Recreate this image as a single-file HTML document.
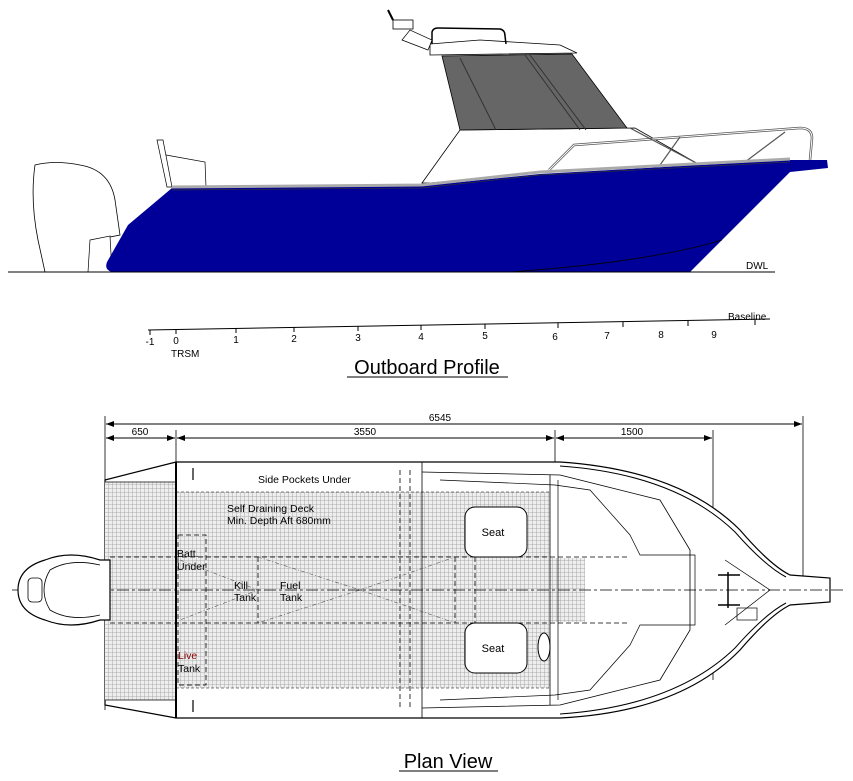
<!DOCTYPE html>
<html><head><meta charset="utf-8"><style>
html,body{margin:0;padding:0;background:#fff;}
svg{display:block;font-family:"Liberation Sans",Arial,sans-serif;}
</style></head><body>
<svg width="853" height="781" viewBox="0 0 853 781" xmlns="http://www.w3.org/2000/svg">
<defs>
<pattern id="g" width="4" height="4" patternUnits="userSpaceOnUse">
<rect width="4" height="4" fill="#eee"/>
<path d="M0 0H4M0 0V4" stroke="#999" stroke-width="0.8"/>
</pattern>
<marker id="a" markerWidth="8" markerHeight="6" refX="8" refY="3" orient="auto-start-reverse"><path d="M0 0L8 3L0 6z" fill="#000"/></marker>
</defs>

<!-- ===== PROFILE ===== -->
<path d="M35 165 Q55 160 80 165 Q110 170 115 200 L120 235 L95 240 L95 272 L45 272 L38 240 Q30 200 35 165Z" fill="#fff" stroke="#000" stroke-width="0.8"/>
<path d="M90 240 L110 236 L112 272 L88 272Z" fill="#fff" stroke="#000" stroke-width="0.7"/>
<path d="M157 140 L163 140 L172 187 L167 187Z" fill="#fff" stroke="#000" stroke-width="0.7"/>
<path d="M166 155 L205 162 L206 187" fill="none" stroke="#000" stroke-width="0.7"/>
<path d="M422 183 L460 130 L635 128 L700 165 L570 170 L430 183Z" fill="#fff" stroke="#000" stroke-width="0.8"/>
<path d="M442 56 L572 54 L627 128 L460 130Z" fill="#666" stroke="#000" stroke-width="0.8"/>
<path d="M460 58 L496 130 M525 55 L580 130 M530 55 L586 130" stroke="#333" stroke-width="1"/>
<path d="M430 44 L480 40 L560 45 L577 53 L430 55Z" fill="#fff" stroke="#000" stroke-width="0.8"/>
<path d="M432 44 L432 32 Q433 28 438 28 L500 29 Q505 30 505 36 L506 44" fill="none" stroke="#000" stroke-width="1.5"/>
<path d="M402 40 L428 50 L432 40 L410 30Z" fill="#fff" stroke="#000" stroke-width="0.7"/>
<rect x="393" y="20" width="20" height="9" fill="#fff" stroke="#000" stroke-width="0.8"/>
<path d="M388 10 L393 20" stroke="#000" stroke-width="2"/>
<path d="M549 170 L574 145 L800 128 Q812 128 812 138 L810 160" fill="none" stroke="#555" stroke-width="2.5"/>
<path d="M549 170 L574 145 L800 128 Q812 128 812 138 L810 160" fill="none" stroke="#fff" stroke-width="1"/>
<path d="M660 165 L680 137 M745 162 L785 132 M630 128 L700 165" stroke="#555" stroke-width="1.2"/>
<path d="M172 188 L422 186 L540 174 L790 160 L827 160 L828 168 L790 172 L690 272 L112 272 Q104 270 107 262 L128 225 Z" fill="#000099"/>
<path d="M172 187 L422 185 L540 172 L790 159" fill="none" stroke="#aaa" stroke-width="3"/>
<path d="M172 190 L422 188 L540 175 L790 162" fill="none" stroke="#333" stroke-width="0.7"/>
<path d="M722 240 Q650 262 510 272" fill="none" stroke="#000" stroke-width="0.8"/>
<line x1="8" y1="272" x2="775" y2="272" stroke="#000" stroke-width="1"/>
<text x="746" y="269" font-size="10">DWL</text>

<path d="M148 330 L770 319" stroke="#000" stroke-width="1" fill="none"/>
<g stroke="#000" stroke-width="1">
<line x1="150" y1="330" x2="150" y2="335"/><line x1="176" y1="329" x2="176" y2="334"/>
<line x1="236" y1="328" x2="236" y2="333"/><line x1="294" y1="327" x2="294" y2="332"/>
<line x1="358" y1="326" x2="358" y2="331"/><line x1="421" y1="325" x2="421" y2="330"/>
<line x1="485" y1="324" x2="485" y2="329"/><line x1="558" y1="323" x2="558" y2="328"/>
<line x1="623" y1="322" x2="623" y2="327"/><line x1="688" y1="321" x2="688" y2="326"/>
<line x1="755" y1="320" x2="755" y2="325"/>
</g>
<g font-size="10" text-anchor="middle">
<text x="150" y="345">-1</text><text x="176" y="344">0</text><text x="236" y="343">1</text>
<text x="294" y="342">2</text><text x="358" y="341">3</text><text x="421" y="340">4</text>
<text x="485" y="339">5</text><text x="555" y="340">6</text><text x="607" y="339">7</text>
<text x="661" y="338">8</text><text x="714" y="338">9</text>
</g>
<text x="171" y="357" font-size="10">TRSM</text>
<text x="728" y="320" font-size="10">Baseline</text>
<text x="427" y="374" font-size="20" text-anchor="middle">Outboard Profile</text>
<line x1="347" y1="377" x2="508" y2="377" stroke="#000" stroke-width="1"/>

<g stroke="#000" stroke-width="0.8">
<line x1="105" y1="416" x2="105" y2="710"/><line x1="176" y1="430" x2="176" y2="470"/>
<line x1="555" y1="430" x2="555" y2="600"/><line x1="713" y1="430" x2="713" y2="680"/>
<line x1="803" y1="416" x2="803" y2="585"/>
</g>
<g stroke="#000" stroke-width="1" marker-start="url(#a)" marker-end="url(#a)">
<line x1="106" y1="424" x2="802" y2="424"/>
<line x1="106" y1="438" x2="175" y2="438"/>
<line x1="177" y1="438" x2="554" y2="438"/>
<line x1="556" y1="438" x2="712" y2="438"/>
</g>
<g font-size="10" text-anchor="middle">
<text x="440" y="421">6545</text><text x="140" y="435">650</text>
<text x="365" y="435">3550</text><text x="632" y="435">1500</text>
</g>

<path d="M176 462 L560 462 Q680 470 740 530 Q770 565 790 575 L830 578 L830 602 L790 605 Q770 615 740 650 Q680 712 560 718 L176 718 L105 705 L105 480 Z" fill="#fff" stroke="#000" stroke-width="1.2"/>
<path d="M560 466 Q675 474 735 532 Q765 566 786 577 M560 714 Q675 706 735 648 Q765 614 786 603" fill="none" stroke="#000" stroke-width="1"/>
<rect x="105" y="482" width="71" height="218" fill="url(#g)"/>
<rect x="176" y="492" width="374" height="196" fill="url(#g)"/>
<rect x="550" y="558" width="35" height="64" fill="url(#g)"/>
<line x1="176" y1="462" x2="176" y2="718" stroke="#000" stroke-width="2"/>
<line x1="105" y1="482" x2="176" y2="482" stroke="#000" stroke-width="0.8"/>
<line x1="105" y1="700" x2="176" y2="700" stroke="#000" stroke-width="0.8"/>
<line x1="176" y1="492" x2="550" y2="492" stroke="#000" stroke-width="0.6" stroke-dasharray="3,2"/>
<line x1="176" y1="688" x2="550" y2="688" stroke="#000" stroke-width="0.6" stroke-dasharray="3,2"/>
<line x1="422" y1="462" x2="422" y2="718" stroke="#000" stroke-width="0.8"/>
<path d="M422 472 L560 475 L600 485 L660 500 L690 550 L690 630 L660 680 L600 695 L560 705 L422 708" fill="none" stroke="#000" stroke-width="0.8"/>
<path d="M440 480 L555 485 L590 490 L630 535 L640 555 L695 555 L695 625 L640 625 L630 645 L590 690 L555 695 L440 700" fill="none" stroke="#000" stroke-width="0.7"/>
<line x1="550" y1="475" x2="550" y2="705" stroke="#000" stroke-width="0.8"/>
<line x1="558" y1="480" x2="558" y2="700" stroke="#000" stroke-width="0.7"/>
<rect x="465" y="507" width="62" height="50" rx="10" fill="#fff" stroke="#000" stroke-width="1"/>
<rect x="465" y="623" width="62" height="50" rx="10" fill="#fff" stroke="#000" stroke-width="1"/>
<text x="493" y="536" font-size="11" text-anchor="middle">Seat</text>
<text x="493" y="652" font-size="11" text-anchor="middle">Seat</text>
<ellipse cx="544" cy="647" rx="6" ry="14" fill="#fff" stroke="#000" stroke-width="1"/>
<g fill="none" stroke="#000" stroke-width="0.8" stroke-dasharray="5,3">
<line x1="110" y1="557" x2="630" y2="557"/><line x1="110" y1="623" x2="630" y2="623"/>
<rect x="178" y="535" width="28" height="150" />
<line x1="258" y1="557" x2="258" y2="623"/>
<line x1="400" y1="470" x2="400" y2="710"/>
<line x1="410" y1="470" x2="410" y2="710"/>
<line x1="455" y1="557" x2="455" y2="623"/>
<line x1="475" y1="557" x2="475" y2="623"/>
</g>
<g fill="none" stroke="#555" stroke-width="0.6" stroke-dasharray="4,2,1,2">
<path d="M258 557 L360 590 L258 623 M360 590 L455 557 M360 590 L455 623 M180 560 L258 590 L180 620"/>
</g>
<line x1="12" y1="590" x2="845" y2="590" stroke="#000" stroke-width="0.8" stroke-dasharray="12,3,3,3"/>
<path d="M110 560 L110 620 L100 620 Q70 630 45 620 Q18 612 18 590 Q18 568 45 560 Q70 550 100 560Z" fill="#fff" stroke="#000" stroke-width="1.2"/>
<path d="M100 565 Q70 558 50 570 Q38 590 50 610 Q70 622 100 615" fill="none" stroke="#000" stroke-width="0.8"/>
<rect x="28" y="578" width="14" height="24" rx="4" fill="none" stroke="#000" stroke-width="0.8"/>
<path d="M725 560 L770 590 L725 625" fill="none" stroke="#000" stroke-width="0.7"/>
<g stroke="#000" stroke-width="1.5"><line x1="718" y1="575" x2="740" y2="575"/><line x1="718" y1="605" x2="740" y2="605"/><line x1="728" y1="572" x2="728" y2="608"/></g>
<rect x="737" y="608" width="20" height="12" fill="none" stroke="#000" stroke-width="0.7"/>
<g stroke="#000" stroke-width="1.2"><line x1="193" y1="468" x2="193" y2="480"/><line x1="193" y1="700" x2="193" y2="712"/></g>
<g font-size="10.5">
<text x="258" y="483">Side Pockets Under</text>
<text x="227" y="512">Self Draining Deck</text>
<text x="227" y="524">Min. Depth Aft 680mm</text>
<text x="177" y="557">Batt.</text><text x="177" y="570">Under</text>
<text x="234" y="589">Kill</text><text x="234" y="601">Tank</text>
<text x="280" y="589">Fuel</text><text x="280" y="601">Tank</text>
<text x="178" y="659" fill="#800">Live</text><text x="178" y="672">Tank</text>
</g>
<text x="448" y="768" font-size="20" text-anchor="middle">Plan View</text>
<line x1="399" y1="771" x2="498" y2="771" stroke="#000" stroke-width="1"/>
</svg>
</body></html>
